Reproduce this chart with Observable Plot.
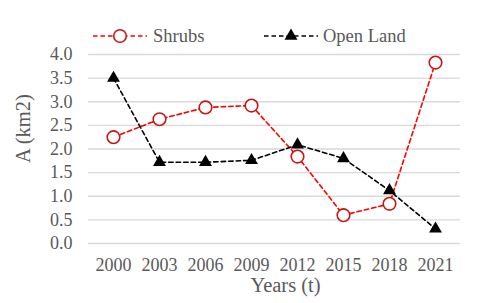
<!DOCTYPE html>
<html>
<head>
<meta charset="utf-8">
<script src="https://cdn.jsdelivr.net/npm/d3@7"></script>
<script src="https://cdn.jsdelivr.net/npm/@observablehq/plot@0.6"></script>
<style>
  body { margin: 0; background: #fff; }
  #wrap { position: relative; width: 480px; height: 303px; font-family: "Liberation Serif", "Times New Roman", serif; }
  #chart svg, #chart svg text { font-family: "Liberation Serif", "Times New Roman", serif !important; }
  #legend { position: absolute; left: 0; top: 0; width: 480px; height: 50px; }
  .lg { position: absolute; top: 24px; font-size: 18.5px; color: #595959; line-height: 24px; }
</style>
</head>
<body>
<div id="wrap">
  <div id="chart"></div>
  <div id="legend"></div>
</div>
<script>
const years = ["2000", "2003", "2006", "2009", "2012", "2015", "2018", "2021"];
const shrubs = [2.25, 2.63, 2.88, 2.92, 1.84, 0.60, 0.84, 3.83];
const openLand = [3.5, 1.72, 1.72, 1.76, 2.09, 1.80, 1.12, 0.31];
const yTicks = [0, 0.5, 1, 1.5, 2, 2.5, 3, 3.5, 4];
const seriesNames = ["Shrubs", "Open Land"];
const xTitle = "Years (t)";
const yTitle = "A (km2)";

const shrubData = years.map((t, i) => ({t, v: shrubs[i]}));
const openData = years.map((t, i) => ({t, v: openLand[i]}));

const textColor = "#595959";
const font = "Liberation Serif";

const chart = Plot.plot({
  width: 480,
  height: 303,
  marginLeft: 88,
  marginRight: 20,
  marginTop: 54,
  marginBottom: 60,
  style: { fontFamily: font, fontSize: "18px", color: textColor, background: "#fff" },
  x: { type: "point", domain: years, padding: 0.5, label: null },
  y: { domain: [0, 4], label: null },
  marks: [
    Plot.ruleY(yTicks, { stroke: "#d9d9d9", strokeWidth: 1.4 }),
    Plot.axisY({ ticks: yTicks, tickFormat: d3.format(".1f"), tickSize: 0, tickPadding: 16, fill: textColor, label: null, fontSize: 18, fontFamily: font }),
    Plot.axisX({ tickSize: 0, tickPadding: 15, fill: textColor, label: null, fontSize: 18, fontFamily: font }),
    Plot.line(shrubData, { x: "t", y: "v", stroke: "#FF0000", strokeWidth: 1.6, strokeDasharray: "4.5,3" }),
    Plot.dot(shrubData, { x: "t", y: "v", r: 6.3, stroke: "#C81414", strokeWidth: 1.6, fill: "#fff" }),
    Plot.line(openData, { x: "t", y: "v", stroke: "#000", strokeWidth: 1.6, strokeDasharray: "4.5,3" }),
    Plot.dot(openData, { x: "t", y: "v", symbol: "triangle", r: 4.8, fill: "#000", stroke: "none" }),
    Plot.text([xTitle], { frameAnchor: "bottom", dx: 11, dy: 42, fontSize: 20.5, fontFamily: font, fill: textColor, lineAnchor: "middle" }),
    Plot.text([yTitle], { frameAnchor: "left", dx: -65, dy: 14, rotate: -90, fontSize: 20.5, fontFamily: font, fill: textColor, lineAnchor: "middle" })
  ]
});
document.getElementById("chart").appendChild(chart);

// Legend (HTML + small SVG icons)
const legend = document.getElementById("legend");
const icon = (x, color, markerSvg) => {
  const s = document.createElementNS("http://www.w3.org/2000/svg", "svg");
  s.setAttribute("width", 56); s.setAttribute("height", 20);
  s.style.position = "absolute"; s.style.left = x + "px"; s.style.top = "26px";
  s.innerHTML = `<line x1="1" y1="10" x2="55" y2="10" stroke="${color}" stroke-width="1.6" stroke-dasharray="4.5,3"/>` + markerSvg;
  legend.appendChild(s);
};
icon(92, "#FF0000", `<circle cx="28" cy="10" r="6.3" fill="#fff" stroke="#C81414" stroke-width="1.6"/>`);
icon(263, "#000", (() => {
  const p = d3.symbol(d3.symbolTriangle, 4.8 * 4.8 * Math.PI)();
  return `<path d="${p}" transform="translate(28,10)" fill="#000"/>`;
})());
const lab = (x, t) => {
  const d = document.createElement("div");
  d.className = "lg"; d.style.left = x + "px"; d.textContent = t;
  legend.appendChild(d);
};
lab(153, seriesNames[0]);
lab(323, seriesNames[1]);
</script>
</body>
</html>
